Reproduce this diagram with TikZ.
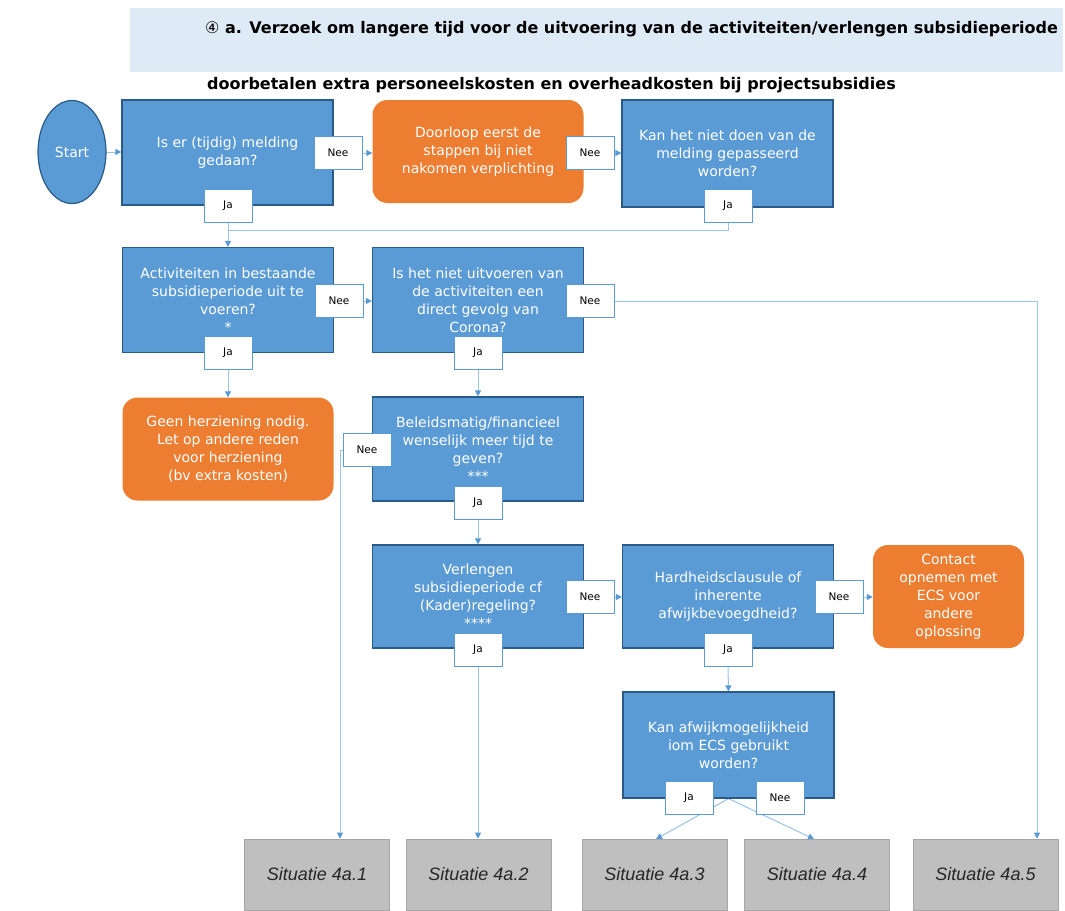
\documentclass[tikz,border=0pt]{standalone}
\usepackage{fontspec}
\setmainfont{DejaVu Sans}
\newfontfamily\libfont{Liberation Sans}
\usetikzlibrary{arrows.meta,backgrounds,shapes.geometric}
\definecolor{qblue}{HTML}{5B9BD5}
\definecolor{qnavy}{HTML}{2A5A88}
\definecolor{qorange}{HTML}{ED7D31}
\definecolor{qline}{HTML}{9DC3E6}
\definecolor{qband}{HTML}{DEEBF7}
\definecolor{qgray}{HTML}{BFBFBF}
\definecolor{qgrayb}{HTML}{A6A6A6}
\tikzset{
  qbox/.style={rectangle, fill=qblue, draw=qnavy, line width=1.2pt, text=white,
    minimum width=211pt, minimum height=105pt, align=center, inner sep=0pt,
    font=\fontsize{14}{18}\selectfont},
  obox/.style={rectangle, rounded corners=15pt, fill=qorange, text=white,
    minimum width=211pt, minimum height=103pt, align=center, inner sep=0pt,
    font=\fontsize{14}{18}\selectfont},
  lbl/.style={rectangle, fill=white, draw=qblue, line width=0.8pt, text=black,
    minimum width=48pt, minimum height=33pt, inner sep=0pt,
    font=\fontsize{10.5}{12}\selectfont},
  sbox/.style={rectangle, fill=qgray, draw=qgrayb, line width=0.6pt, text=black!85,
    minimum width=145pt, minimum height=71pt, inner sep=0pt,
    font=\libfont\itshape\fontsize{18}{20}\selectfont},
  ln/.style={draw=qline, line width=1pt},
  arr/.style={ln, -{Triangle[length=6pt,width=6pt,color=qblue]}},
  titlefont/.style={font=\bfseries\fontsize{16}{18}\selectfont}
}
\begin{document}
\begin{tikzpicture}[x=1pt,y=-1pt]
\useasboundingbox (0,0) rectangle (1065,910);
\begin{scope}[on background layer]
\fill[white] (0,0) rectangle (1065,910);
% title band
\fill[qband] (130,8) rectangle (1063,72);
\end{scope}
\node[titlefont, anchor=west, inner sep=0pt] (title1) at (205,29)
  {{\mdseries ④} a. Verzoek om langere tijd voor de uitvoering van de activiteiten/verlengen subsidieperiode};
\node[titlefont, anchor=west, inner sep=0pt] (title2) at (207,85.5)
  {doorbetalen extra personeelskosten en overheadkosten bij projectsubsidies};

% main nodes
\node[ellipse, fill=qblue, draw=qnavy, line width=1.2pt, text=white,
  minimum width=68pt, minimum height=103pt, font=\fontsize{14}{17}\selectfont] (start) at (72,152) {Start};
\node[qbox] (box1) at (227.5,152.5) {Is er (tijdig) melding\\gedaan?};
\node[obox] (or1) at (478,151.5) {Doorloop eerst de\\stappen bij niet\\nakomen verplichting};
\node[qbox, minimum height=107pt] (box3) at (727.5,153.5) {Kan het niet doen van de\\melding gepasseerd\\worden?};
\node[qbox] (box4) at (228,300) {Activiteiten in bestaande\\subsidieperiode uit te\\voeren?\\*};
\node[qbox] (box5) at (478,300) {Is het niet uitvoeren van\\de activiteiten een\\direct gevolg van\\Corona?};
\node[obox] (or2) at (228,449) {Geen herziening nodig.\\Let op andere reden\\voor herziening\\(bv extra kosten)};
\node[qbox, minimum height=104pt] (box6) at (478,449) {Beleidsmatig/financieel\\wenselijk meer tijd te\\geven?\\***};
\node[qbox, minimum height=103pt] (box7) at (478,596.5) {Verlengen\\subsidieperiode cf\\(Kader)regeling?\\****};
\node[qbox, minimum height=103pt] (box8) at (728,596.5) {Hardheidsclausule of\\inherente\\afwijkbevoegdheid?};
\node[obox, minimum width=151pt] (or3) at (948.5,596.5) {Contact\\opnemen met\\ECS voor\\andere\\oplossing};
\node[qbox, minimum height=106pt] (box9) at (728.5,745) {Kan afwijkmogelijkheid\\iom ECS gebruikt\\worden?};

% situations
\node[sbox] (s1) at (317,874.5) {Situatie 4a.1};
\node[sbox] (s2) at (478.5,874.5) {Situatie 4a.2};
\node[sbox] (s3) at (654.5,874.5) {Situatie 4a.3};
\node[sbox] (s4) at (817,874.5) {Situatie 4a.4};
\node[sbox] (s5) at (985.5,874.5) {Situatie 4a.5};

% labels
\node[lbl] (nee1) at (338,153) {Nee};
\node[lbl] (ja1) at (228,206) {Ja};
\node[lbl] (nee2) at (590,153) {Nee};
\node[lbl] (ja3) at (728,206) {Ja};
\node[lbl] (nee4) at (339,301) {Nee};
\node[lbl] (nee5) at (590,301) {Nee};
\node[lbl] (ja4) at (228,353) {Ja};
\node[lbl] (ja5) at (478,353) {Ja};
\node[lbl] (nee6) at (367,450) {Nee};
\node[lbl] (ja6) at (478,503) {Ja};
\node[lbl] (nee7) at (590,597) {Nee};
\node[lbl] (nee8) at (839,597) {Nee};
\node[lbl] (ja7) at (478,650) {Ja};
\node[lbl] (ja8) at (728,650) {Ja};
\node[lbl] (ja9) at (689,798) {Ja};
\node[lbl] (nee9) at (780,798) {Nee};

% junction / free ends
\coordinate (j1) at (228,230);
\coordinate (c5) at (1037,301);
\coordinate (c6) at (340,450);
\coordinate (t3) at (656,839);
\coordinate (t4) at (814,839);

\begin{scope}[on background layer]
\draw[arr] (start.east) -- (start.east -| box1.west);
\draw[arr] (nee1.east) -- (nee1.east -| or1.west);
\draw[arr] (nee2.east) -- (nee2.east -| box3.west);
\draw[arr] (ja1.south) -- (box4.north);
\draw[ln] (ja3.south) |- (j1);
\draw[arr] (nee4.east) -- (nee4.east -| box5.west);
\draw[arr] (nee5.east) -- (c5) -- (c5 |- s5.north);
\draw[arr] (ja4.south) -- (or2.north);
\draw[arr] (ja5.south) -- (box6.north);
\draw[arr] (nee6.west) -- (c6) -- (c6 |- s1.north);
\draw[arr] (ja6.south) -- (box7.north);
\draw[arr] (nee7.east) -- (nee7.east -| box8.west);
\draw[arr] (nee8.east) -- (nee8.east -| or3.west);
\draw[arr] (ja7.south) -- (ja7.south |- s2.north);
\draw[arr] (ja8.south) -- (box9.north);
\draw[arr] (box9.south) -- (t3);
\draw[arr] (box9.south) -- (t4);
\end{scope}
\end{tikzpicture}
\end{document}
